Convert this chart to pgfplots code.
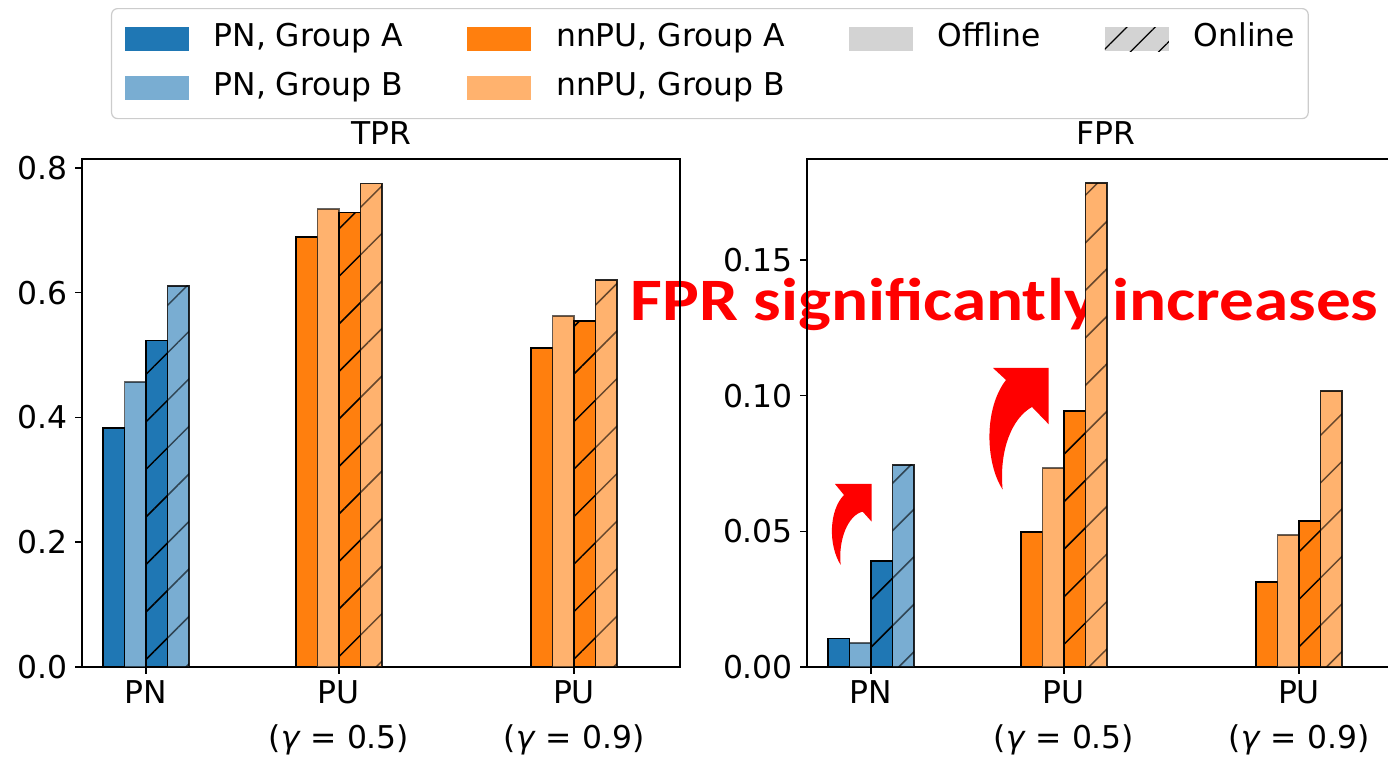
\documentclass[border=0pt]{standalone}
\usepackage{fontspec}
\setmainfont{DejaVu Sans}
\newfontfamily\calibri{Carlito}
\usepackage{pgfplots}
\pgfplotsset{compat=1.18}
\usepackage{pgfplotstable}
\usetikzlibrary{patterns.meta}

\definecolor{tabblue}{HTML}{1F77B4}
\definecolor{tabblueL}{HTML}{79ADD2}
\definecolor{taborange}{HTML}{FF7F0E}
\definecolor{taborangeL}{HTML}{FFB26E}
\definecolor{legendgray}{HTML}{D3D3D3}

% TPR / FPR per method: group A / group B, offline / online
\pgfplotstableread{
x aoff boff aon bon
0 0.383 0.457 0.523 0.611
}\tprPN
\pgfplotstableread{
x aoff boff aon bon
1 0.689 0.734 0.729 0.775
2.22 0.511 0.563 0.555 0.620
}\tprPU
\pgfplotstableread{
x aoff boff aon bon
0 0.0105 0.0088 0.0391 0.0745
}\fprPN
\pgfplotstableread{
x aoff boff aon bon
1 0.0498 0.0733 0.0944 0.1784
2.22 0.0313 0.0487 0.0538 0.1017
}\fprPU

\newcommand{\fs}{\fontsize{15.7}{22.5}\selectfont}

\pgfplotsset{
  hatchA/.style={postaction={pattern={Lines[angle=45,distance=16.8pt,line width=0.75pt]},pattern color=black}},
  hatchB/.style={postaction={pattern={Lines[angle=45,distance=16.8pt,line width=0.75pt]},pattern color=black,fill opacity=0.6}},
  barA/.style={ybar, bar width=0.1116, fill=#1, draw=black, line width=0.75pt, forget plot},
  barB/.style={ybar, bar width=0.1116, fill=#1, draw=black, draw opacity=0.6, line width=0.75pt, forget plot},
  panel/.style={
    scale only axis, width=299pt, height=254pt,
    xmin=-0.333, xmax=2.77, ymin=0,
    xtick={0,1,2.22},
    xticklabels={PN, PU\\(\textit{γ} = 0.5), PU\\(\textit{γ} = 0.9)},
    xticklabel style={align=center},
    ticklabel style={font=\fs},
    tick align=outside, tick pos=left, major tick length=3.5pt,
    axis line style={line width=0.75pt},
    tick style={line width=0.75pt, black},
    /pgf/number format/assume math mode=true,
    title style={font=\fs, anchor=base, yshift=1pt},
  },
}
\newcommand{\patch}[1]{\fill[#1, draw=none, sharp corners] (0pt,-6pt) rectangle (32pt,6pt);}

\begin{document}
\begin{tikzpicture}
% annotation: text and arrows sit behind the panels
\begin{scope}[x=0.5pt,y=-0.5pt,shift={(0pt,379pt)}]
  \node[anchor=base west, inner sep=0pt, text=red] at (630,321)
    {\resizebox{374pt}{!}{\scalebox{1}[0.87]{\calibri\bfseries\fontsize{27}{30}\selectfont FPR significantly increases}}};
  \fill[red] (840.7,565) .. controls (828,545) and (829,510) .. (844,495)
    -- (835,484) -- (871.7,484) -- (871.7,521.7) -- (862.7,511.7)
    .. controls (848,515) and (838,540) .. cycle;
  \fill[red] (1002.6,489.5) .. controls (985,462) and (984,408) .. (1006,380)
    -- (993,368) -- (1048.7,368) -- (1048.7,424.3) -- (1032,407)
    .. controls (1012,418) and (999,450) .. cycle;
\end{scope}

\begin{axis}[panel, at={(41pt,45.5pt)}, anchor=south west,
  title={TPR}, ymax=0.8144, ytick={0,0.2,0.4,0.6,0.8},
  yticklabel style={/pgf/number format/.cd, fixed, fixed zerofill, precision=1},
  legend columns=4,
  legend cell align=left,
  legend style={at={(0.0485,1.2972)}, anchor=north west,
    draw=black!20, rounded corners=3pt, line width=0.6pt,
    inner xsep=6.5pt, inner ysep=8pt, font=\fs, row sep=10pt,
    nodes={inner sep=0pt, text height=11pt, text depth=3.5pt},
    /tikz/every odd column/.append style={column sep=12.5pt},
    /tikz/every even column/.append style={column sep=32pt}},
]
\addplot[barA=tabblue, bar shift=-0.1674] table[x=x,y=aoff]{\tprPN};
\addplot[barB=tabblueL, bar shift=-0.0558] table[x=x,y=boff]{\tprPN};
\addplot[barA=tabblue, bar shift=0.0558, hatchA] table[x=x,y=aon]{\tprPN};
\addplot[barB=tabblueL, bar shift=0.1674, hatchB] table[x=x,y=bon]{\tprPN};
\addplot[barA=taborange, bar shift=-0.1674] table[x=x,y=aoff]{\tprPU};
\addplot[barB=taborangeL, bar shift=-0.0558] table[x=x,y=boff]{\tprPU};
\addplot[barA=taborange, bar shift=0.0558, hatchA] table[x=x,y=aon]{\tprPU};
\addplot[barB=taborangeL, bar shift=0.1674, hatchB] table[x=x,y=bon]{\tprPU};

\addlegendimage{legend image code/.code={\patch{tabblue}}}
\addlegendentry{PN, Group A}
\addlegendimage{legend image code/.code={\patch{taborange}}}
\addlegendentry{nnPU, Group A}
\addlegendimage{legend image code/.code={\patch{legendgray}}}
\addlegendentry{Offline}
\addlegendimage{legend image code/.code={\patch{legendgray}
  \fill[draw=none, sharp corners, pattern={Lines[angle=45,distance=10pt,line width=0.6pt]},pattern color=black] (0pt,-6pt) rectangle (32pt,6pt);}}
\addlegendentry{Online}
\addlegendimage{legend image code/.code={\patch{tabblueL}}}
\addlegendentry{PN, Group B}
\addlegendimage{legend image code/.code={\patch{taborangeL}}}
\addlegendentry{nnPU, Group B}
\end{axis}

\begin{axis}[panel, at={(403.5pt,45.5pt)}, anchor=south west,
  title={FPR}, ymax=0.1872, ytick={0,0.05,0.1,0.15},
  yticklabel style={/pgf/number format/.cd, fixed, fixed zerofill, precision=2},
]
\addplot[barA=tabblue, bar shift=-0.1674] table[x=x,y=aoff]{\fprPN};
\addplot[barB=tabblueL, bar shift=-0.0558] table[x=x,y=boff]{\fprPN};
\addplot[barA=tabblue, bar shift=0.0558, hatchA] table[x=x,y=aon]{\fprPN};
\addplot[barB=tabblueL, bar shift=0.1674, hatchB] table[x=x,y=bon]{\fprPN};
\addplot[barA=taborange, bar shift=-0.1674] table[x=x,y=aoff]{\fprPU};
\addplot[barB=taborangeL, bar shift=-0.0558] table[x=x,y=boff]{\fprPU};
\addplot[barA=taborange, bar shift=0.0558, hatchA] table[x=x,y=aon]{\fprPU};
\addplot[barB=taborangeL, bar shift=0.1674, hatchB] table[x=x,y=bon]{\fprPU};
\end{axis}

\pgfresetboundingbox
\useasboundingbox (0pt,0pt) rectangle (694pt,379pt);
\end{tikzpicture}
\end{document}
